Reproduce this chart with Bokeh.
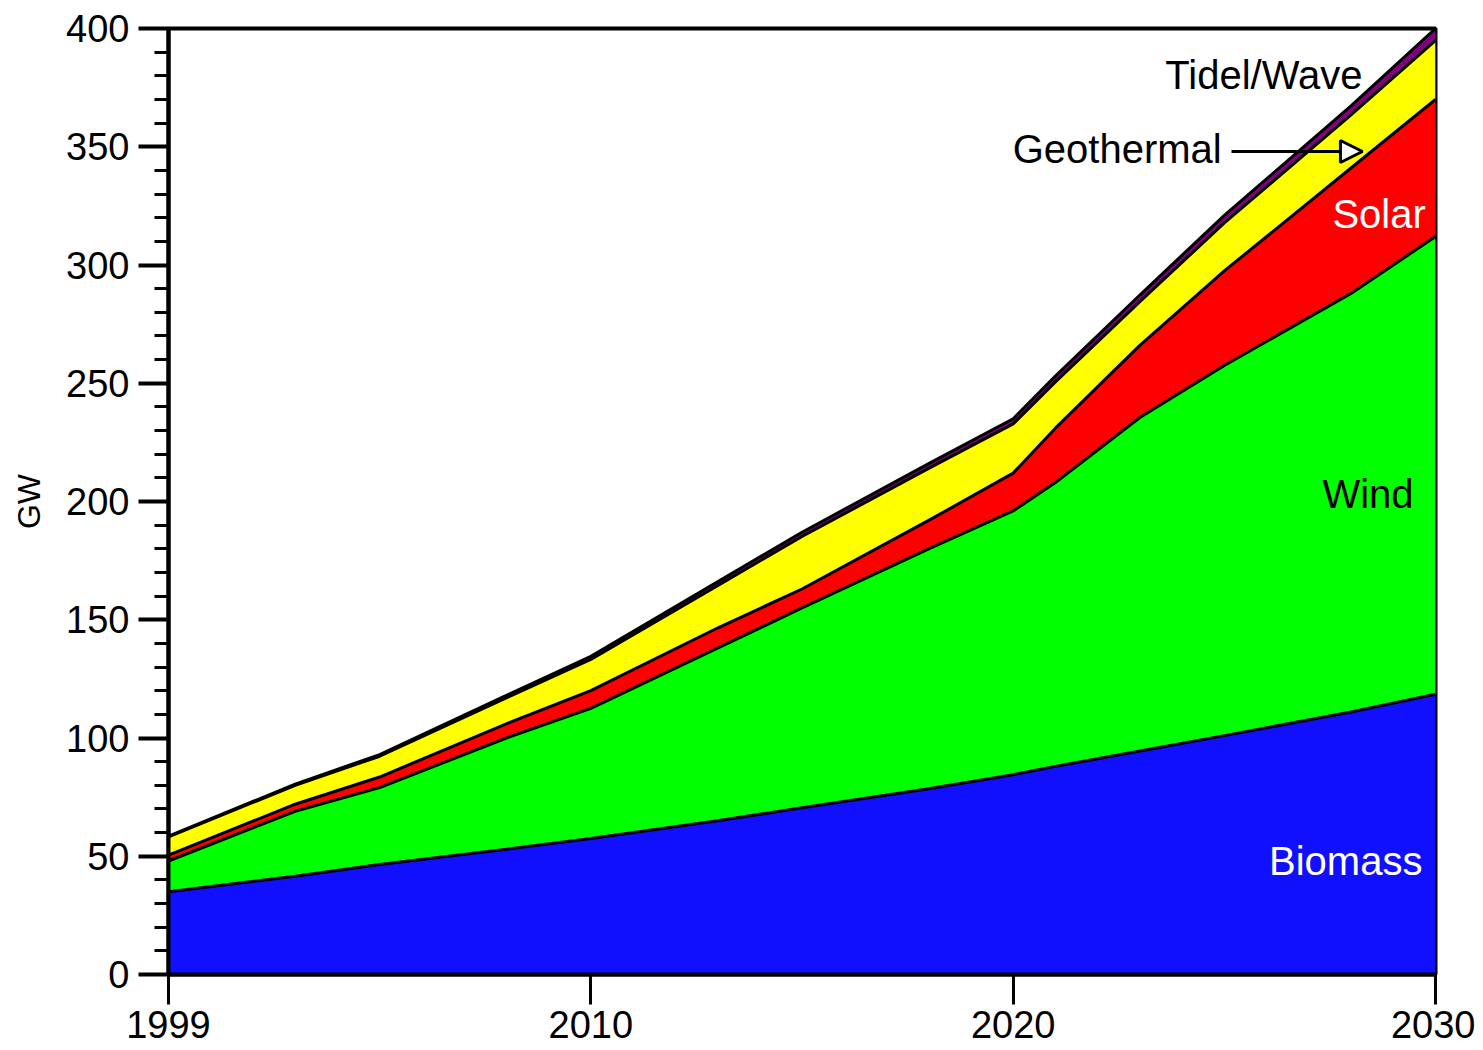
from bokeh.plotting import figure
from bokeh.models import (ColumnDataSource, Range1d, SingleIntervalTicker, FixedTicker,
                          Label, Arrow, NormalHead)
from bokeh.embed import file_html
from bokeh.resources import INLINE

# ---- data (GW) ----
years = [2000, 2003, 2005, 2008, 2010, 2013, 2015, 2018, 2020, 2021, 2023, 2025, 2028, 2030]
biomass = [35, 41.5, 46.5, 53, 57.5, 65, 70.5, 78.5, 84.5, 88, 94.5, 101, 111, 118.5]
wind = [13, 27.5, 32.5, 47, 55, 73, 84.5, 101.5, 111.5, 120, 141, 156.5, 177, 193.5]
solar = [2.5, 3, 4.5, 6, 7.5, 8.5, 8, 12, 16, 23, 30.5, 40, 53, 58]
geothermal = [7.7, 8.0, 8.8, 11, 13.2, 17.9, 22.2, 22, 20.8, 19.6, 18.5, 20.3, 22.5, 25]
tidal_wave = [0.3, 0.5, 0.7, 1.0, 1.3, 1.6, 1.8, 2.0, 2.2, 2.4, 2.8, 3.2, 3.8, 5]

tick_years = [2000, 2010, 2020, 2030]
tick_labels = ["1999", "2010", "2020", "2030"]

series = ["biomass", "wind", "solar", "geothermal", "tidal_wave"]
colors = ["#1010FF", "#00FF00", "#FF0000", "#FFFF00", "#800080"]

source = ColumnDataSource(dict(year=years, biomass=biomass, wind=wind, solar=solar,
                               geothermal=geothermal, tidal_wave=tidal_wave))

FONT = "Liberation Sans"

p = figure(width=1475, height=1049, x_range=Range1d(2000, 2030), y_range=Range1d(0, 400),
           output_backend="svg", toolbar_location=None,
           min_border_left=168, min_border_right=40, min_border_top=28, min_border_bottom=75)

p.varea_stack(stackers=series, x="year", color=colors, source=source)
p.vline_stack(stackers=series, x="year", color="black", line_width=3, source=source)

p.grid.visible = False
p.background_fill_color = "white"
p.border_fill_color = "white"
p.outline_line_color = "black"
p.outline_line_width = 4

# x axis
xa = p.xaxis[0]
xa.ticker = FixedTicker(ticks=tick_years, minor_ticks=[])
xa.major_label_overrides = {t: l for t, l in zip(tick_years, tick_labels)}
xa.major_tick_out = 30
xa.major_tick_in = 0
xa.major_tick_line_width = 3
xa.minor_tick_line_color = None
xa.axis_line_width = 4
xa.major_label_standoff = 6
xa.major_label_text_font = FONT
xa.major_label_text_font_size = "38px"
xa.major_label_text_color = "black"

# y axis
ya = p.yaxis[0]
ya.ticker = SingleIntervalTicker(interval=50, num_minor_ticks=5)
ya.major_tick_out = 30
ya.major_tick_in = 0
ya.minor_tick_out = 14
ya.minor_tick_in = 0
ya.major_tick_line_width = 4
ya.minor_tick_line_width = 3
ya.axis_line_width = 4
ya.major_label_standoff = 9
ya.major_label_text_font = FONT
ya.major_label_text_font_size = "38px"
ya.major_label_text_color = "black"
ya.axis_label = "GW"
ya.axis_label_text_font = FONT
ya.axis_label_text_font_size = "32px"
ya.axis_label_text_font_style = "normal"
ya.axis_label_text_color = "black"
ya.axis_label_standoff = 16


def add_label(x, y, text, color, align):
    p.add_layout(Label(x=x, y=y, text=text, text_font=FONT, text_font_size="40px",
                       text_color=color, text_align=align, text_baseline="middle"))


add_label(2028.27, 380.5, "Tidel/Wave", "black", "right")
add_label(2019.99, 349, "Geothermal", "black", "left")
add_label(2029.77, 321.4, "Solar", "white", "right")
add_label(2029.48, 203, "Wind", "black", "right")
add_label(2029.69, 48.2, "Biomass", "white", "right")

p.add_layout(Arrow(end=NormalHead(fill_color="white", line_color="black", line_width=3, size=22),
                   x_start=2025.17, y_start=348, x_end=2028.27, y_end=348,
                   line_color="black", line_width=3))

open("out.html", "w").write(file_html(p, INLINE))
